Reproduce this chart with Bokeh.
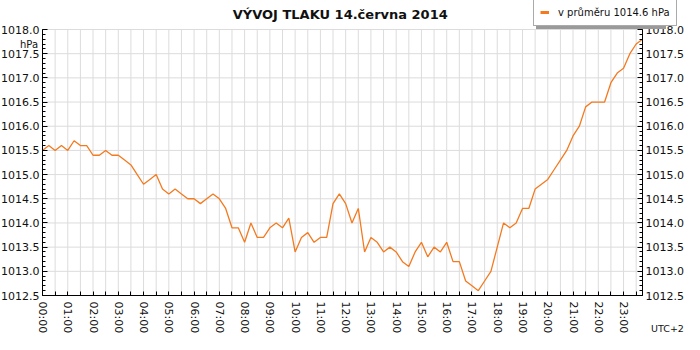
from bokeh.plotting import figure
from bokeh.models import Range1d, LinearAxis, FixedTicker, PrintfTickFormatter, Legend, LegendItem, Label
from bokeh.embed import file_html
from bokeh.resources import INLINE

# ---- data -------------------------------------------------------------
title_text = "VÝVOJ TLAKU  14.června 2014"
legend_text = "v průměru 1014.6 hPa"

# measurements every 15 minutes, 00:00 .. 23:45 (hours)
times_h = [i * 0.25 for i in range(96)]
pressure = [
    1015.5, 1015.6, 1015.5, 1015.6, 1015.5, 1015.7, 1015.6, 1015.6,
    1015.4, 1015.4, 1015.5, 1015.4, 1015.4, 1015.3, 1015.2, 1015.0,
    1014.8, 1014.9, 1015.0, 1014.7, 1014.6, 1014.7, 1014.6, 1014.5,
    1014.5, 1014.4, 1014.5, 1014.6, 1014.5, 1014.3, 1013.9, 1013.9,
    1013.6, 1014.0, 1013.7, 1013.7, 1013.9, 1014.0, 1013.9, 1014.1,
    1013.4, 1013.7, 1013.8, 1013.6, 1013.7, 1013.7, 1014.4, 1014.6,
    1014.4, 1014.0, 1014.3, 1013.4, 1013.7, 1013.6, 1013.4, 1013.5,
    1013.4, 1013.2, 1013.1, 1013.4, 1013.6, 1013.3, 1013.5, 1013.4,
    1013.6, 1013.2, 1013.2, 1012.8, 1012.7, 1012.6, 1012.8, 1013.0,
    1013.5, 1014.0, 1013.9, 1014.0, 1014.3, 1014.3, 1014.7, 1014.8,
    1014.9, 1015.1, 1015.3, 1015.5, 1015.8, 1016.0, 1016.4, 1016.5,
    1016.5, 1016.5, 1016.9, 1017.1, 1017.2, 1017.5, 1017.7, 1017.8,
]

hour_ticks = list(range(24))
hour_labels = ["00:00", "01:00", "02:00", "03:00", "04:00", "05:00", "06:00", "07:00",
               "08:00", "09:00", "10:00", "11:00", "12:00", "13:00", "14:00", "15:00",
               "16:00", "17:00", "18:00", "19:00", "20:00", "21:00", "22:00", "23:00"]
half_hour_ticks = [h + 0.5 for h in hour_ticks]
all_half_hours = sorted(hour_ticks + half_hour_ticks)

y_ticks = [1012.5, 1013.0, 1013.5, 1014.0, 1014.5, 1015.0, 1015.5,
           1016.0, 1016.5, 1017.0, 1017.5, 1018.0]
y_minor = [round(1012.5 + 0.1 * k, 1) for k in range(56)]

X0, X1 = 0.0, 23.75
Y0, Y1 = 1012.5, 1018.0

LINE = "#f47a1f"
FONT = "DejaVu Sans"

# ---- layout (pixels inside the 684x334 canvas) -----------------------
W, H = 684, 334
PL, PR, PT, PB = 42, 642, 29, 295          # data area edges
kx = (PR - PL) / (X1 - X0)                  # px per hour
ky = (PB - PT) / (Y1 - Y0)                  # px per hPa
xr = Range1d(X0 - PL / kx, X1 + (W - PR) / kx)
yr = Range1d(Y0 - (H - PB) / ky, Y1 + PT / ky)

p = figure(width=W, height=H, output_backend="svg", toolbar_location=None,
           x_range=xr, y_range=yr, x_axis_location=None, y_axis_location=None,
           min_border=0)
p.center = []
p.outline_line_color = None
p.background_fill_color = "white"
p.border_fill_color = "white"
# a range far away from the view, only used to give the legend its thick dash
p.extra_y_ranges = {"legend_only": Range1d(-2000, -1000)}

# grid lines (half hours, half hPa) inside the data area
vx = [t for t in all_half_hours if X0 < t < X1]
p.segment(x0=vx, y0=[Y0] * len(vx), x1=vx, y1=[Y1] * len(vx),
          line_color="#dcdcdc", line_width=1, level="underlay")
hy = [t for t in y_ticks if t > Y0]
p.segment(x0=[X0] * len(hy), y0=hy, x1=[X1] * len(hy), y1=hy,
          line_color="#dcdcdc", line_width=1, level="underlay")

# x axis
xa = LinearAxis(fixed_location=Y0, bounds=(X0, X1))
xa.ticker = FixedTicker(ticks=hour_ticks, minor_ticks=half_hour_ticks)
xa.major_label_overrides = {h: lab for h, lab in zip(hour_ticks, hour_labels)}
xa.major_label_orientation = "vertical"
xa.major_tick_in = 4
xa.major_tick_out = 0
xa.minor_tick_in = 4
xa.minor_tick_out = 0
xa.axis_line_color = "black"
xa.major_tick_line_color = "black"
xa.minor_tick_line_color = "black"
xa.major_label_text_font = FONT
xa.major_label_text_font_size = "11px"
xa.major_label_text_color = "#111111"
xa.major_label_standoff = 6
p.add_layout(xa, "below")

def make_y(loc):
    ax = LinearAxis(fixed_location=loc, bounds=(Y0, Y1))
    ax.ticker = FixedTicker(ticks=y_ticks, minor_ticks=y_minor)
    ax.formatter = PrintfTickFormatter(format="%.1f")
    ax.major_tick_in = 5
    ax.major_tick_out = 0
    ax.minor_tick_in = 3
    ax.minor_tick_out = 0
    ax.axis_line_color = "black"
    ax.major_tick_line_color = "black"
    ax.minor_tick_line_color = "black"
    ax.major_label_text_font = FONT
    ax.major_label_text_font_size = "11px"
    ax.major_label_text_color = "#111111"
    ax.major_label_standoff = 3
    return ax

p.add_layout(make_y(X0), "left")
p.add_layout(make_y(X1), "right")

# data line
p.line(times_h, pressure, line_color=LINE, line_width=1.3)

# legend glyph (thick short dash): same series mapped onto the off-view range
dash = p.line(times_h, pressure, line_color=LINE, line_width=3, y_range_name="legend_only")

LEG_L, LEG_B = 533, 26   # legend box left / bottom (canvas px from top-left)
common = dict(margin=0, padding=6, glyph_width=9, glyph_height=14, label_height=14,
              label_standoff=9, label_text_font=FONT, label_text_font_size="10px")
shadow = Legend(items=[LegendItem(label=legend_text, renderers=[dash])],
                location=(LEG_L + 3, H - LEG_B - 3),
                label_text_color="#9a9a9a",
                background_fill_color="#9a9a9a", background_fill_alpha=1,
                border_line_color=None, **common)
front = Legend(items=[LegendItem(label=legend_text, renderers=[dash])],
               location=(LEG_L, H - LEG_B),
               label_text_color="#111111",
               background_fill_color="white", background_fill_alpha=1,
               border_line_color="#555555", border_line_width=1, **common)
p.add_layout(shadow)
p.add_layout(front)

# title
p.add_layout(Label(x=(X0 + X1) / 2, y=Y1 + 15 / ky, text=title_text,
                   text_align="center", text_baseline="middle",
                   text_font=FONT, text_font_size="13px", text_font_style="bold",
                   text_color="#111111"))
# unit label
p.add_layout(Label(x=X0 - 13.5 / kx, y=Y1 - 14.5 / ky, text="hPa",
                   text_align="center", text_baseline="middle",
                   text_font=FONT, text_font_size="10px", text_color="#111111"))
# time zone
p.add_layout(Label(x=X1 + 25 / kx, y=Y0 - 33 / ky, text="UTC+2",
                   text_align="center", text_baseline="middle",
                   text_font=FONT, text_font_size="9.5px", text_color="#111111"))

open("out.html", "w").write(file_html(p, INLINE))
